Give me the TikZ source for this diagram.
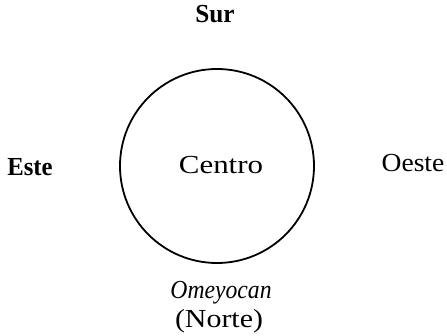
\documentclass[tikz,border=0pt]{standalone}
\usepackage{fontspec}
\setmainfont{Liberation Serif}
\begin{document}
\begin{tikzpicture}[x=1pt,y=-1pt,
  lbl/.style={anchor=base,inner sep=0pt,font=\fontsize{26}{30}\selectfont,transform shape},
  ring/.style={draw=black,line width=1.8pt}]
\useasboundingbox (0,0) rectangle (447,336);
\node[ring,circle,minimum size=194pt,inner sep=0pt] (ring) at (217,166) {};
\node[lbl,font=\fontsize{26}{30}\selectfont\bfseries,xscale=0.97] (sur) at (215,23) {Sur};
\node[lbl,font=\fontsize{26}{30}\selectfont\bfseries,xscale=0.95] (este) at (30,176) {Este};
\node[lbl,xscale=1.06] (oeste) at (413,172) {Oeste};
\node[lbl,xscale=1.19] (centro) at (221,174) {Centro};
\node[lbl,font=\fontsize{26}{30}\selectfont\itshape,xscale=0.91] (omey) at (221,299) {Omeyocan};
\node[lbl,xscale=1.15] (norte) at (219,328) {(Norte)};
\end{tikzpicture}
\end{document}
